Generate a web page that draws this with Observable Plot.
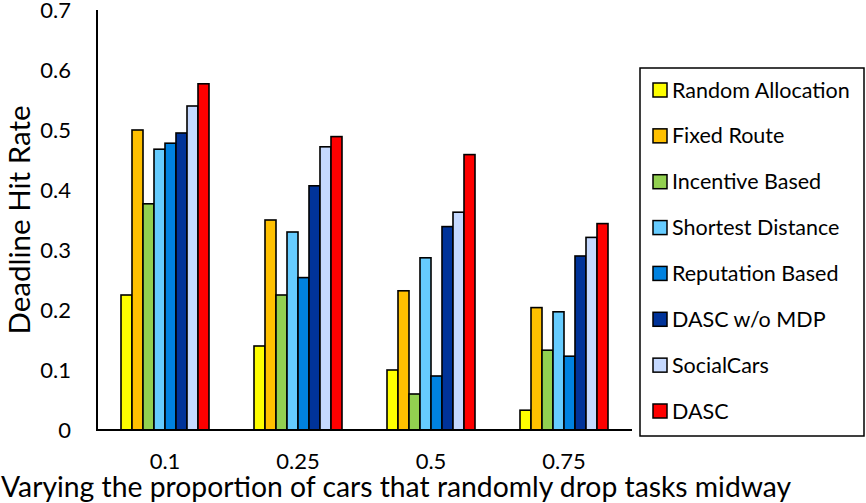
<!DOCTYPE html>
<html>
<head>
<meta charset="utf-8">
<script src="https://cdn.jsdelivr.net/npm/d3@7"></script>
<script src="https://cdn.jsdelivr.net/npm/@observablehq/plot@0.6"></script>
<style>
  html, body { margin: 0; padding: 0; background: white; }
</style>
</head>
<body>
<div id="chart"></div>
<script>
const groups = ["0.1", "0.25", "0.5", "0.75"];
const series = ["Random Allocation", "Fixed Route", "Incentive Based", "Shortest Distance",
  "Reputation Based", "DASC w/o MDP", "SocialCars", "DASC"];
const colors = ["#FFFF00", "#FFC000", "#92D050", "#66CCFF", "#0082E0", "#003399", "#C5D9FF", "#FF0000"];

const randomAllocation = [0.225, 0.140, 0.100, 0.033];
const fixedRoute       = [0.500, 0.350, 0.232, 0.204];
const incentiveBased   = [0.377, 0.225, 0.060, 0.133];
const shortestDistance = [0.468, 0.330, 0.287, 0.197];
const reputationBased  = [0.478, 0.254, 0.090, 0.123];
const dascWoMdp        = [0.495, 0.407, 0.339, 0.290];
const socialCars       = [0.540, 0.472, 0.363, 0.321];
const dasc             = [0.577, 0.489, 0.459, 0.344];

const yTicks = [0, 0.1, 0.2, 0.3, 0.4, 0.5, 0.6, 0.7];
const yTickLabels = ["0", "0.1", "0.2", "0.3", "0.4", "0.5", "0.6", "0.7"];
const yLabel = "Deadline Hit Rate";
const xLabel = "Varying the proportion of cars that randomly drop tasks midway";

const allSeries = [randomAllocation, fixedRoute, incentiveBased, shortestDistance,
  reputationBased, dascWoMdp, socialCars, dasc];
const rows = [];
groups.forEach((g, gi) => {
  series.forEach((s, si) => rows.push({group: g, series: s, value: allSeries[si][gi]}));
});

const FONT = "Lato, 'Open Sans', sans-serif";

const chart = Plot.plot({
  width: 866,
  height: 503,
  marginTop: 10,
  marginBottom: 73,
  marginLeft: 97,
  marginRight: 234,
  style: {fontFamily: FONT, fontSize: "22px", color: "black", background: "white", overflow: "visible"},
  facet: {data: rows, x: "group"},
  fx: {domain: groups, paddingInner: 0.33, paddingOuter: 0.165, label: null, tickSize: 0, tickPadding: 23},
  x: {domain: series, padding: 0, axis: null},
  y: {domain: [0, 0.7], axis: null},
  color: {domain: series, range: colors},
  marks: [
    Plot.barY(rows, {x: "series", y: "value", fill: "series", stroke: "black", strokeWidth: 1.6, inset: 0})
  ]
});

document.getElementById("chart").appendChild(chart);

const svg = d3.select(chart);
const ys = chart.scale("y");
const y0 = ys.apply(0), yTop = ys.apply(0.7);
const left = 97, right = 866 - 234;

// y tick labels from the plot's y scale
const yt = svg.append("g").attr("text-anchor", "end");
yTicks.forEach((t, i) => {
  yt.append("text").attr("x", 71).attr("y", ys.apply(t)).attr("dy", "0.36em")
    .attr("font-family", FONT).attr("font-size", 22).attr("fill", "black")
    .text(yTickLabels[i]);
});

svg.append("line").attr("x1", left).attr("x2", left).attr("y1", yTop).attr("y2", y0 + 1)
  .attr("stroke", "black").attr("stroke-width", 2);
svg.append("line").attr("x1", left - 1).attr("x2", right).attr("y1", y0).attr("y2", y0)
  .attr("stroke", "black").attr("stroke-width", 2);

// y label
svg.append("text")
  .attr("transform", `translate(20,${(y0 + yTop) / 2}) rotate(-90)`)
  .attr("text-anchor", "middle").attr("dy", "0.35em")
  .attr("font-family", FONT).attr("font-size", 29.5).attr("fill", "black")
  .text(yLabel);

// x label
svg.append("text")
  .attr("x", 1).attr("y", 497).attr("text-anchor", "start")
  .attr("font-family", FONT).attr("font-size", 28.3).attr("fill", "black")
  .text(xLabel);

// legend
const lg = svg.append("g").attr("text-anchor", "start");
lg.append("rect").attr("x", 640).attr("y", 68).attr("width", 224).attr("height", 368)
  .attr("fill", "white").attr("stroke", "black").attr("stroke-width", 1.5);
const rowY = d3.scalePoint().domain(series).range([90, 411]);
series.forEach((s, i) => {
  const cy = rowY(s);
  lg.append("rect").attr("x", 653).attr("y", cy - 7).attr("width", 14).attr("height", 14)
    .attr("fill", colors[i]).attr("stroke", "black").attr("stroke-width", 1.5);
  lg.append("text").attr("x", 672).attr("y", cy).attr("dy", "0.35em")
    .attr("font-family", FONT).attr("font-size", 21.5).attr("fill", "black").text(s);
});
</script>
</body>
</html>
